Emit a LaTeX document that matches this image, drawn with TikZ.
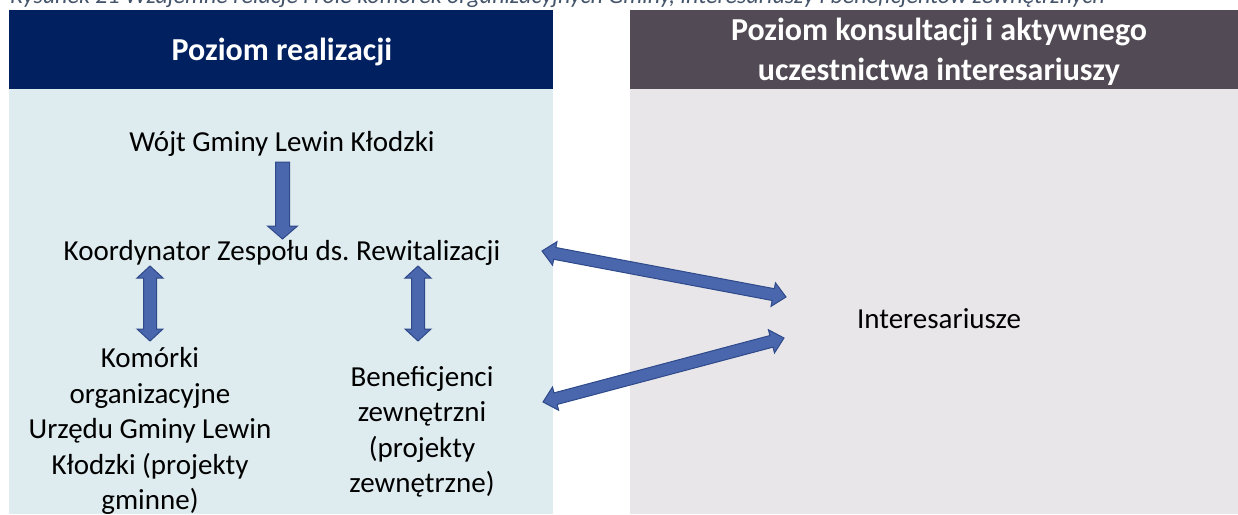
\documentclass[tikz,border=0pt]{standalone}
\usepackage{fontspec}
\setmainfont{Carlito}
\usetikzlibrary{calc}
\frenchspacing
\definecolor{navy}{HTML}{002060}
\definecolor{hdrgray}{HTML}{524A54}
\definecolor{lblue}{HTML}{DEEBEF}
\definecolor{lgray}{HTML}{E8E6E9}
\definecolor{arrfill}{HTML}{4A66AC}
\definecolor{arredge}{HTML}{2F4A8A}
\definecolor{captc}{HTML}{44546A}
\tikzset{
  arrstyle/.style={fill=arrfill, draw=arredge, line width=1pt, line join=miter},
  bodytext/.style={inner sep=0pt, align=center, font=\fontsize{29}{35.5}\selectfont, text=black},
  hdrtext/.style={inner sep=0pt, align=center, font=\bfseries\fontsize{32}{40}\selectfont, text=white},
}
% double block arrow: #1 end A, #2 end B, #3 shaft half width, #4 head half width, #5 head length
\newcommand\dblarr[5]{%
  \coordinate (ta) at ($(#1)!#5!(#2)$);
  \coordinate (tb) at ($(#2)!#5!(#1)$);
  \filldraw[arrstyle] (#1) -- ($(ta)!#4!90:(#2)$) -- ($(ta)!#3!90:(#2)$)
    -- ($(tb)!#3!-90:(#1)$) -- ($(tb)!#4!-90:(#1)$) -- (#2)
    -- ($(tb)!#4!90:(#1)$) -- ($(tb)!#3!90:(#1)$)
    -- ($(ta)!#3!-90:(#2)$) -- ($(ta)!#4!-90:(#2)$) -- cycle;}
% single block arrow from #1 to #2
\newcommand\sglarr[5]{%
  \coordinate (tb) at ($(#2)!#5!(#1)$);
  \filldraw[arrstyle] ($(#1)!#3!90:(#2)$)
    -- ($(tb)!#3!-90:(#1)$) -- ($(tb)!#4!-90:(#1)$) -- (#2)
    -- ($(tb)!#4!90:(#1)$) -- ($(tb)!#3!90:(#1)$)
    -- ($(#1)!#3!-90:(#2)$) -- cycle;}
\begin{document}
\begin{tikzpicture}[x=1pt,y=-1pt]
\clip (0,0) rectangle (1238,514);
\fill[white] (0,0) rectangle (1238,514);
% panels
\fill[navy] (9,10) rectangle (553,89);
\fill[lblue] (9,89) rectangle (553,514);
\fill[hdrgray] (630,10) rectangle (1238,89);
\fill[lgray] (630,89) rectangle (1238,514);
% caption (cut off at top)
\node[anchor=base west, inner sep=0pt, text=captc, font=\itshape\fontsize{24}{28}\selectfont] (cap) at (10,4)
  {Rysunek 21 Wzajemne relacje i role komórek organizacyjnych Gminy, interesariuszy i beneficjentów zewnętrznych};
% headers
\node[hdrtext] (h1) at (282,52) {Poziom realizacji};
\node[hdrtext] (h2) at (939,52) {Poziom konsultacji i aktywnego\\uczestnictwa interesariuszy};
% body texts
\node[bodytext] (wojt) at (282,144) {Wójt Gminy Lewin Kłodzki};
\node[bodytext] (koord) at (282,253) {Koordynator Zespołu ds. Rewitalizacji};
\node[bodytext] (kom) at (150,431) {Komórki\\organizacyjne\\Urzędu Gminy Lewin\\Kłodzki (projekty\\gminne)};
\node[bodytext] (ben) at (422,432) {Beneficjenci\\zewnętrzni\\(projekty\\zewnętrzne)};
\node[bodytext] (inter) at (939,319) {Interesariusze};
% connector end points
\coordinate (w1) at (282.5,162);
\coordinate (w2) at (282.5,239);
\coordinate (k1) at (150,266);
\coordinate (k2) at (150,341);
\coordinate (b1) at (418,266);
\coordinate (b2) at (418,341);
\coordinate (d1) at (542,251);
\coordinate (d2) at (786,297);
\coordinate (e1) at (543,402);
\coordinate (e2) at (784,338);
% connectors
\sglarr{w1}{w2}{7pt}{15pt}{13pt}
\dblarr{k1}{k2}{6.5pt}{13pt}{12pt}
\dblarr{b1}{b2}{6.5pt}{13pt}{12pt}
\dblarr{d1}{d2}{6pt}{12pt}{13pt}
\dblarr{e1}{e2}{6pt}{12pt}{13pt}
\end{tikzpicture}
\end{document}
